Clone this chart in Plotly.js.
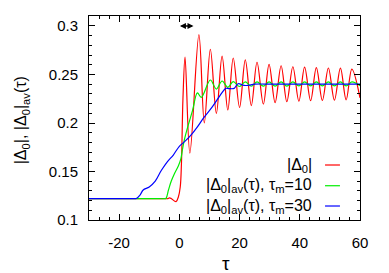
<!DOCTYPE html>
<html>
<head>
<meta charset="utf-8">
<script src="https://cdn.plot.ly/plotly-3.0.1.min.js"></script>
<style>html,body{margin:0;padding:0;background:#fff;}#chart{width:389px;height:273px;}</style>
</head>
<body>
<div id="chart"></div>
<script>
// |Δ0| (red)
const tauRed = [-30, -10, -5, -3.8, -3.3, -2.7, -1.1, -0.3, 0.3, 0.7, 1.2, 1.9, 3.5, 6.5, 8.3, 10.3, 12.3, 14.2, 16.1, 17.9, 20.0, 21.9, 23.9, 25.8, 27.9, 29.8, 31.8, 33.8, 35.7, 37.7, 39.7, 41.6, 43.6, 45.5, 47.5, 49.5, 51.5, 53.5, 55.4, 57.3, 60];
const valRed = [0.122, 0.122, 0.122, 0.122, 0.1228, 0.1222, 0.1189, 0.124, 0.134, 0.158, 0.225, 0.268, 0.169, 0.291, 0.200, 0.276, 0.210, 0.269, 0.2134, 0.267, 0.216, 0.265, 0.218, 0.2626, 0.2195, 0.2605, 0.221, 0.259, 0.222, 0.258, 0.2225, 0.2575, 0.223, 0.257, 0.2233, 0.2567, 0.2235, 0.2565, 0.2238, 0.2555, 0.226];

// |Δ0|av(τ), τm=10 (green)
const tauGreen = [-30, -15, -8, -5.0, -4.4, -3.6, -2.7, -1.6, -0.3, 0.5, 1.0, 1.7, 2.7, 4.4, 6.0, 7.3, 10.3, 12.3, 14.2, 16.1, 17.9, 20.0, 21.9, 23.9, 25.8, 27.9, 29.8, 31.8, 33.8, 35.7, 37.7, 39.7, 41.6, 43.6, 45.5, 47.5, 49.5, 51.5, 53.5, 55.4, 57.3, 60];
const valGreen = [0.122, 0.122, 0.122, 0.122, 0.1224, 0.131, 0.140, 0.148, 0.156, 0.163, 0.172, 0.183, 0.195, 0.213, 0.231, 0.2265, 0.2443, 0.235, 0.2433, 0.2368, 0.2426, 0.2376, 0.2424, 0.2379, 0.2423, 0.238, 0.2423, 0.2381, 0.2423, 0.2381, 0.2423, 0.2382, 0.2423, 0.2382, 0.2423, 0.2382, 0.2423, 0.2382, 0.2423, 0.2382, 0.2423, 0.2385];

// |Δ0|av(τ), τm=30 (blue)
const tauBlue = [-30, -22, -17, -14.9, -14.3, -13, -12, -10, -8, -6, -4, -2, 0, 2, 4, 6, 8, 11, 14, 15.4, 16.5, 18.2, 19.5, 21.5, 23, 25, 30, 35, 40, 45, 50, 55, 60];
const valBlue = [0.122, 0.122, 0.122, 0.122, 0.1222, 0.126, 0.131, 0.134, 0.140, 0.151, 0.160, 0.167, 0.176, 0.1815, 0.188, 0.196, 0.205, 0.2168, 0.2305, 0.2357, 0.2355, 0.2357, 0.2405, 0.2387, 0.2389, 0.2400, 0.2401, 0.2400, 0.2401, 0.2400, 0.2401, 0.2400, 0.2401];

const seriesNames = ["|Δ<sub>0</sub>|", "|Δ<sub>0</sub>|<sub>av</sub>(τ), τ<sub>m</sub>=10", "|Δ<sub>0</sub>|<sub>av</sub>(τ), τ<sub>m</sub>=30"];
const seriesColors = ["#ff0000", "#00ee00", "#0000ff"];

const xTickVals = [-20, 0, 20, 40, 60];
const yTickVals = [0.1, 0.15, 0.2, 0.25, 0.3];
const arrowFrom = -0.3, arrowTo = 4.7, arrowY = 0.3;

const FONT = "Liberation Sans, Arial, sans-serif";

const traces = [
  {x: tauRed, y: valRed, color: seriesColors[0]},
  {x: tauGreen, y: valGreen, color: seriesColors[1]},
  {x: tauBlue, y: valBlue, color: seriesColors[2]}
].map((s, i) => ({
  x: s.x, y: s.y, type: 'scatter', mode: 'lines', name: seriesNames[i],
  line: {color: s.color, width: 1.2, shape: 'spline', smoothing: 1},
  showlegend: false, hoverinfo: 'skip'
}));

// legend (gnuplot style: text left, sample right)
const legendRows = [0.2696, 0.168, 0.0686];
const annotations = [];
const shapes = [];
seriesNames.forEach((n, i) => {
  annotations.push({xref: 'paper', yref: 'paper', x: 0.832, y: legendRows[i], xanchor: 'right', yanchor: 'middle',
    text: n, showarrow: false, font: {family: FONT, size: 16, color: '#000'}});
  shapes.push({type: 'line', xref: 'paper', yref: 'paper', x0: 0.871, x1: 0.926, y0: legendRows[i], y1: legendRows[i],
    line: {color: seriesColors[i], width: 1.2}});
});
annotations.push({xref: 'x', yref: 'y', axref: 'x', ayref: 'y', x: arrowTo, y: arrowY, ax: arrowFrom, ay: arrowY,
  text: '', showarrow: true, arrowside: 'end+start', arrowhead: 2, startarrowhead: 2, arrowsize: 0.8, startarrowsize: 0.8,
  arrowwidth: 1.5, arrowcolor: '#000', standoff: 0, startstandoff: 0});
annotations.push({xref: 'paper', yref: 'paper', x: 0.504, y: -0.211, xanchor: 'center', yanchor: 'middle',
  text: 'τ', showarrow: false, font: {family: FONT, size: 19, color: '#000'}});
annotations.push({xref: 'paper', yref: 'paper', x: -0.25, y: 0.49, xanchor: 'center', yanchor: 'middle', textangle: -90,
  text: '|Δ<sub>0</sub>|, |Δ<sub>0</sub>|<sub>av</sub>(τ)', showarrow: false, font: {family: FONT, size: 16, color: '#000'}});

const axisCommon = {
  showline: true, linecolor: '#000', linewidth: 1, mirror: 'allticks', ticks: 'inside', ticklen: 6, tickwidth: 1,
  tickcolor: '#000', showgrid: false, zeroline: false, tickfont: {family: FONT, size: 15, color: '#000'}
};

const layout = {
  width: 389, height: 273,
  margin: {l: 89, r: 29, t: 16, b: 53},
  paper_bgcolor: '#fff', plot_bgcolor: '#fff',
  xaxis: Object.assign({}, axisCommon, {range: [-30, 60], tickvals: xTickVals, ticktext: xTickVals.map(v => String(v)),
    ticklabelstandoff: 9, minor: {dtick: 20 / 6, tick0: 0, ticks: 'inside', ticklen: 3, tickcolor: '#000', showgrid: false}}),
  yaxis: Object.assign({}, axisCommon, {range: [0.1, 0.3103], tickvals: yTickVals, ticktext: yTickVals.map(v => String(v)),
    ticklabelstandoff: 7, minor: {dtick: 0.01, tick0: 0, ticks: 'inside', ticklen: 3, tickcolor: '#000', showgrid: false}}),
  annotations: annotations,
  shapes: shapes
};

Plotly.newPlot('chart', traces, layout, {staticPlot: true, displayModeBar: false});
</script>
</body>
</html>
